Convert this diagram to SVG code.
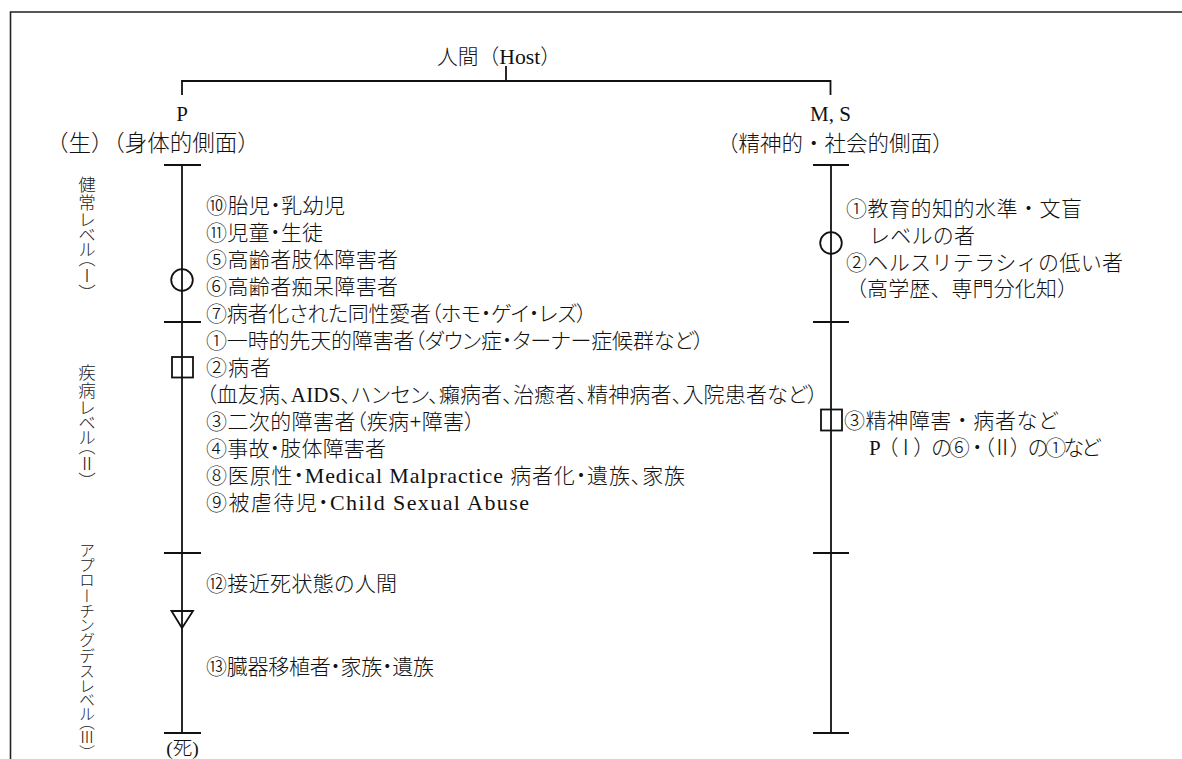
<svg xmlns="http://www.w3.org/2000/svg" width="1182" height="759" viewBox="0 0 1182 759">
<style>
  .t { font-family: "Liberation Serif", "Noto Sans CJK JP", serif; font-size: 21px; fill: #111; font-weight: 300; }
  .p { font-feature-settings: "palt" 1; }
  .lat { font-family: "Liberation Serif", serif; font-weight: 400; font-size: 22px; }
  .v { font-family: "Noto Sans CJK JP", sans-serif; font-size: 17.5px; fill: #222; font-weight: 300; writing-mode: vertical-rl; font-feature-settings: "vpal" 1; }
  .ln { stroke: #111; stroke-width: 1.8; fill: none; }
  .fr { stroke: #222; stroke-width: 1.6; fill: none; }
  .sym { stroke: #111; stroke-width: 1.8; fill: none; }
</style>
<rect width="1182" height="759" fill="#fff"/>
<g id="frame">
  <path class="fr" d="M10.5 759 V12 H1182"/>
</g>
<g id="connectors">
  <line class="ln" x1="506" y1="66" x2="506" y2="81"/>
  <line class="ln" x1="181.5" y1="81" x2="830.5" y2="81" stroke-width="2.4"/>
  <line class="ln" x1="182" y1="80" x2="182" y2="95"/>
  <line class="ln" x1="830.5" y1="80" x2="830.5" y2="95"/>
</g>
<g id="host">
  <text class="t" x="437" y="64" textLength="124" lengthAdjust="spacingAndGlyphs">人間（<tspan class="lat">Host</tspan>）</text>
</g>
<g id="branch-P">
  <text class="t lat" x="182" y="121" text-anchor="middle" style="font-size:21px">P</text>
  <text class="t" x="46" y="151" style="font-size:22.5px">（生）（身体的側面）</text>
</g>
<g id="branch-MS">
  <text class="t lat" x="830.5" y="121" text-anchor="middle" style="font-size:21px">M, S</text>
  <text class="t" x="717" y="151" style="font-size:21.5px">（精神的・社会的側面）</text>
</g>
<g id="axis-P">
  <line class="ln" x1="182" y1="165" x2="182" y2="733"/>
  <line class="ln" x1="164" y1="165" x2="201" y2="165"/>
  <line class="ln" x1="164" y1="322" x2="201" y2="322"/>
  <line class="ln" x1="164" y1="553" x2="201" y2="553"/>
  <line class="ln" x1="164" y1="733" x2="201" y2="733"/>
  <circle class="sym" cx="182" cy="280" r="10.8"/>
  <rect class="sym" x="172" y="357" width="21" height="20.5"/>
  <polygon class="sym" points="171.5,611 193,611 182,628" fill="#fff"/>
  <text class="t" x="182.5" y="754.5" text-anchor="middle" style="font-size:19.5px">(死)</text>
</g>
<g id="axis-MS">
  <line class="ln" x1="831" y1="165" x2="831" y2="733"/>
  <line class="ln" x1="813" y1="165" x2="849" y2="165"/>
  <line class="ln" x1="813" y1="322" x2="849" y2="322"/>
  <line class="ln" x1="813" y1="553" x2="849" y2="553"/>
  <line class="ln" x1="813" y1="733" x2="849" y2="733"/>
  <circle class="sym" cx="831" cy="243" r="10.8"/>
  <rect class="sym" x="821" y="409.5" width="21" height="21"/>
</g>
<g id="level-labels">
  <text class="v" x="87" y="176">健常レベル（Ⅰ）</text>
  <text class="v" x="87" y="364">疾病レベル（Ⅱ）</text>
  <text class="v" x="87" y="542" style="font-size:16px">アプローチングデスレベル（Ⅲ）</text>
</g>
<g id="list-P">
  <text class="t p" x="206" y="212.5" textLength="139" lengthAdjust="spacing">⑩胎児・乳幼児</text>
  <text class="t p" x="206" y="239.5" textLength="117" lengthAdjust="spacing">⑪児童・生徒</text>
  <text class="t p" x="206" y="266.5" textLength="192" lengthAdjust="spacing">⑤高齢者肢体障害者</text>
  <text class="t p" x="206" y="293.5" textLength="192" lengthAdjust="spacing">⑥高齢者痴呆障害者</text>
  <text class="t p" x="206" y="320.5" textLength="381" lengthAdjust="spacing">⑦病者化された同性愛者（ホモ・ゲイ・レズ）</text>
  <text class="t p" x="206" y="347.5" textLength="498" lengthAdjust="spacing">①一時的先天的障害者（ダウン症・ターナー症候群など）</text>
  <text class="t p" x="206" y="374.5" textLength="65" lengthAdjust="spacing">②病者</text>
  <text class="t p" x="206" y="401.5" textLength="612" lengthAdjust="spacing">（血友病、AIDS、ハンセン、癩病者、治癒者、精神病者、入院患者など）</text>
  <text class="t p" x="206" y="428.5" textLength="269" lengthAdjust="spacing">③二次的障害者（疾病+障害）</text>
  <text class="t p" x="206" y="455.5" textLength="180" lengthAdjust="spacing">④事故・肢体障害者</text>
  <text class="t p" x="206" y="482.5" textLength="479" lengthAdjust="spacing">⑧医原性・<tspan class="lat">Medical Malpractice </tspan>病者化・遺族、家族</text>
  <text class="t p" x="206" y="509.5" textLength="323" lengthAdjust="spacing">⑨被虐待児・<tspan class="lat">Child Sexual Abuse</tspan></text>
  <text class="t p" x="206" y="591" textLength="191" lengthAdjust="spacing">⑫接近死状態の人間</text>
  <text class="t p" x="206" y="674" textLength="228" lengthAdjust="spacing">⑬臓器移植者・家族・遺族</text>
</g>
<g id="list-MS">
  <text class="t" x="846" y="215.5" textLength="236" lengthAdjust="spacing">①教育的知的水準・文盲</text>
  <text class="t" x="869" y="242.5" textLength="106" lengthAdjust="spacing">レベルの者</text>
  <text class="t" x="846" y="269.5" textLength="277" lengthAdjust="spacing">②ヘルスリテラシィの低い者</text>
  <text class="t" x="846" y="295.5" textLength="232" lengthAdjust="spacing">（高学歴、専門分化知）</text>
  <text class="t" x="844" y="427.5" textLength="215" lengthAdjust="spacing">③精神障害・病者など</text>
  <text class="t" x="869" y="455" textLength="233" lengthAdjust="spacing">P（Ⅰ）の⑥・（Ⅱ）の①など</text>
</g>
</svg>
